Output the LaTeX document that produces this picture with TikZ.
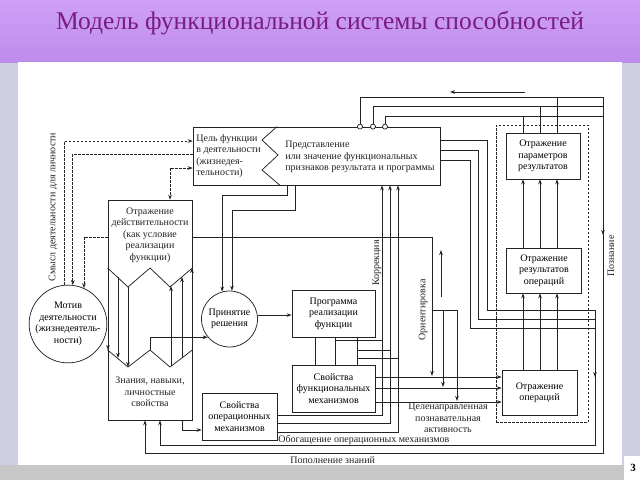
\documentclass[tikz,border=0pt]{standalone}
\usepackage{fontspec}
\setmainfont{Liberation Serif}
\usepackage{tikz}
\usetikzlibrary{arrows.meta}
\usetikzlibrary{positioning}
\definecolor{slidebg}{RGB}{206,208,226}
\definecolor{headtop}{RGB}{206,160,246}
\definecolor{headbot}{RGB}{190,140,236}
\definecolor{titlecol}{RGB}{122,28,128}
\definecolor{ink}{RGB}{35,35,35}
\newcommand{\diagfont}{\fontsize{10}{11.5}\selectfont}
\tikzset{
	box/.style={draw=ink,rectangle,font=\diagfont,align=center,inner sep=1pt},
	ring/.style={draw=ink,circle,font=\diagfont,align=center,inner sep=0pt},
	note/.style={font=\diagfont,align=center,inner sep=0pt,text=ink},
	port/.style={draw=ink,circle,fill=white,inner sep=0pt,minimum size=5pt},
	sense/.style={dash pattern=on 2.5pt off 1.5pt}
}

\begin{document}
\begin{tikzpicture}[x=1pt,y=-1pt,>={Stealth[length=5pt,width=3.6pt]},line width=0.75pt]
      \useasboundingbox (0,0) rectangle (640,480);
      % slide
      \fill[slidebg] (0,0) rectangle (640,480);
      \shade[top color=headtop,bottom color=headbot] (0,0) rectangle (640,62);
      \fill[white] (18,62) rectangle (622,465);
      \fill[black!22] (0,465) rectangle (640,480);
      \fill[white] (624,456) rectangle (640,480);
      \node[font=\bfseries\fontsize{11}{11}\selectfont] (page) at (633,468) {3};
      \node[font=\fontsize{25.5}{25.5}\selectfont,text=titlecol] (title) at (320,23) {Модель функциональной системы способностей};

      \begin{scope}[draw=ink]
      % boxes
      \node[box,minimum width=247pt,minimum height=58pt] (head) at (316.5,156) {};
      \node[note,anchor=west,align=left] (goal) at (196,156) {Цель функции\\в деятельности\\(жизнедея-\\тельности)};
      \node[note,anchor=west,align=left] (repr) at (285,157) {Представление\\или значение функциональных\\признаков результата и программы};
      \draw (head.north -| 277,0) -- (262,140) -- (278,155) -- (262,170) -- (head.south -| 280,0);

      \node[box,minimum width=84pt,minimum height=220pt] (col) at (150,310) {};
      \node[note] (refl) at (150,235) {Отражение\\действительности\\(как условие\\реализации\\функции)};
      \node[note] (know) at (150,392) {Знания, навыки,\\личностные\\свойства};
      \draw (col.west |- 0,268) -- (128,287) -- (150,268) -- (170,287) -- (col.east |- 0,268);
      \draw (col.west |- 0,350) -- (128,367) -- (150,350) -- (170,367) -- (col.east |- 0,350);
      \coordinate (kz) at (150,350);

      \node[ring,minimum size=70pt] (motive) at (68,324) {Мотив\\деятельности\\(жизнедеятель-\\ности)};
      \node[ring,minimum size=56pt] (decide) at (229.5,319) {Принятие\\решения};
      \node[box,minimum width=83pt,minimum height=47pt] (prog) at (333.5,313.5) {Программа\\реализации\\функции};
      \node[box,minimum width=83pt,minimum height=47pt] (fmech) at (333.5,388.5) {Свойства\\функциональных\\механизмов};
      \node[box,minimum width=75pt,minimum height=47pt] (omech) at (239.5,416.5) {Свойства\\операционных\\механизмов};

      \node[draw=ink,sense,line width=0.5pt,minimum width=92pt,minimum height=297pt] (cog) at (542,273.5) {};
      \node[box,minimum width=74pt,minimum height=46pt] (params) at (543,156) {Отражение\\параметров\\результатов};
      \node[box,minimum width=75pt,minimum height=45pt] (results) at (544,270.5) {Отражение\\результатов\\операций};
      \node[box,minimum width=75pt,minimum height=45pt] (ops) at (539.5,392.5) {Отражение\\операций};

      % labels
      \node[note,rotate=90] (sensel) at (53,207) {Смысл деятельности для личности};
      \node[note,rotate=90] (corrl) at (377,263) {Коррекция};
      \node[note,rotate=90] (orientl) at (423,310) {Ориентировка};
      \node[note,rotate=90] (cogl) at (611,256) {Познание};
      \node[note] (activl) at (448,418) {Целенаправленная\\познавательная\\активность};
      \node[note,anchor=base west] (enrl) at (278,442) {Обогащение операционных механизмов};
      \node[note,anchor=base west] (replenl) at (290,463) {Пополнение знаний};

      % inside the column
      \foreach \x/\a/\b in {108/268/350,118/277/358,128/287/367}
        \draw[->] (\x,\a) -- (\x,\b);
      \foreach \x/\a/\b in {171/366/286,182/358/277,192/350/268}
        \draw[->] (\x,\a) -- (\x,\b);

      % sense of activity
      \draw[sense,->] (motive.95) |- (head.west |- 0,141);
      \draw[sense,->] (head.west |- 0,154) -| (motive.83);
      \draw[sense,->] (col.west |- 0,237) -| (motive.66);
      \draw[sense,<->] (head.west |- 0,168) -| (col.north -| 170,0);

      % decision and program
      \draw[->] (head.south -| 287,0) -- ++(0,10) -| (decide.105);
      \draw[->] (head.south -| 295,0) -- ++(0,25) -| (decide.85);
      \draw[->] (kz) |- (decide.220);
      \draw[->] (decide.8) -- (decide.8 -| prog.west);
      \draw[->] (col.south -| 182,0) |- (omech.west |- 0,430);
      \foreach \x in {315,335,357}
        \draw (prog.south -| \x,0) -- (fmech.north -| \x,0);

      % correction
      \foreach \y/\x in {415/382,423/390,432/398}
        \draw[->] (omech.east |- 0,\y) -| (head.south -| \x,0);
      \draw (prog.south -| 335,0) ++(0,3) -- ++(47,0);
      \draw (prog.south -| 357,0) ++(0,13) -- ++(33,0);
      \draw (prog.south -| 357,0) ++(0,21) -- ++(41,0);
      \foreach \y in {377,388,402}
        \draw[->] (fmech.east |- 0,\y) -- (ops.west |- 0,\y);

      % orientation
      \coordinate (orient) at (432,310);
      \draw (col.east |- 0,237) -| (orient);
      \draw[->] (orient) -- ++(0,66);
      \draw[->] (orient) -| ++(11,77);
      \draw[->] (orient) -| ++(25,91);
      \draw[->] (orient) ++(9,-13) -- ++(0,-47);

      % cognition
      \coordinate (cogtop) at (603,97);
      \foreach \x/\y in {360/97,373/106,385/116} {
        \node[port] (p\x) at (head.north -| \x,0) {};
        \draw (p\x.north) |- (cogtop |- 0,\y);
      }
      \foreach \x/\y in {523/116,540/106,557/97}
        \draw (params.north -| \x,0) |- (cogtop |- 0,\y);
      \foreach \x in {523,540,557} {
        \draw[->] (results.north -| \x,0) -- (params.south -| \x,0);
        \draw[->] (ops.north -| \x,0) -- (results.south -| \x,0);
      }
      \draw[->] (cogtop) -- ++(0,356) -| (col.south -| 145,0);
      \draw[->] (cogtop) -- ++(0,138);
      \draw[->] (cogtop) ++(-78,-5) -- ++(-75,0);

      % enrichment
      \coordinate (enr) at (595,310);
      \foreach \y/\x/\z in {140/487/310,150/478/319,160/470/328}
        \draw (head.east |- 0,\y) -| (\x,\z) -- (enr |- 0,\z);
      \draw[->] (enr) -- ++(0,135) -| (col.south -| 160,0);
      \draw[->] (enr) -- ++(0,67);
      \end{scope}
\end{tikzpicture}
\end{document}
